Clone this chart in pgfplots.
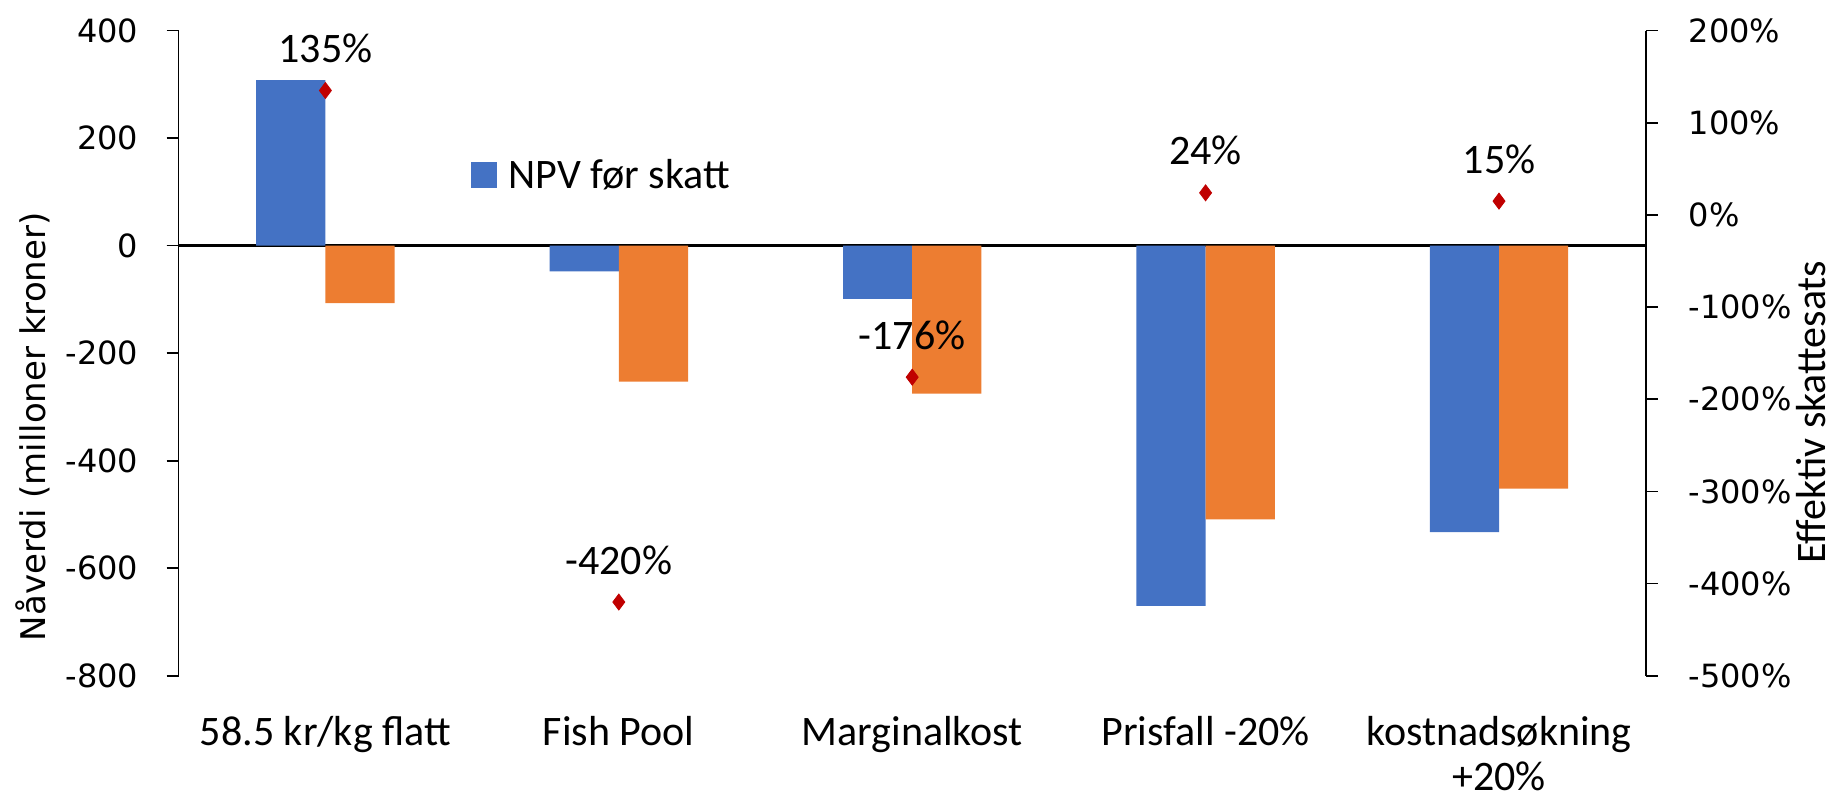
\documentclass[border=0pt]{standalone}
\usepackage{fontspec}
\setmainfont{Carlito}
\newfontfamily\tickfont{DejaVu Sans}
\usepackage{pgfplots}
\pgfplotsset{compat=1.18}
\definecolor{cblue}{HTML}{4472C4}
\definecolor{corange}{HTML}{ED7D31}
\definecolor{cred}{HTML}{C00000}
\begin{document}
\begin{tikzpicture}[font=\fontsize{21}{22.5}\selectfont]
\begin{axis}[
  scale only axis, width=733.5pt, height=322.6pt,
  xmin=-0.5, xmax=4.5, ymin=-800, ymax=400,
  ytick={-800,-600,...,400},
  axis y line*=left, axis x line*=bottom,
  x axis line style={draw=none},
  xtick={0,...,4},
  xticklabels={58.5 kr/kg flatt, Fish Pool, Marginalkost, Prisfall -20\%, {kostnadsøkning\\+20\%}},
  xtick style={draw=none},
  xticklabel style={align=center, anchor=north, inner sep=0pt, yshift=-14pt},
  tick align=outside, major tick length=6pt,
  ytick style={black, line width=0.8pt},
  y axis line style={black, line width=0.8pt},
  /pgf/number format/assume math mode=true,
  yticklabel style={inner sep=0pt, xshift=-14pt, font=\tickfont\fontsize{16}{19}\selectfont},
  ylabel={Nåverdi (milloner kroner)},
  ylabel style={at={(axis description cs:-0.0993,0.386)}, anchor=center, font=\tickfont\fontsize{17}{20}\selectfont},
  ybar=0pt, bar width=34.6pt,
  extra y ticks={0}, extra y tick labels={},
  extra y tick style={ymajorgrids=true, major grid style={black, line width=1.2pt}},
  legend style={at={(axis description cs:0.1993,0.776)}, anchor=west, draw=none, fill=none, inner sep=0pt, nodes={inner sep=0pt}, column sep=5.5pt},
]
\addplot[fill=cblue, draw=none, bar shift=-17.3pt, legend image code/.code={\fill[cblue] (0pt,-6.5pt) rectangle (13pt,6.5pt);}] coordinates {(0,308) (1,-48) (2,-99) (3,-670) (4,-533)};
\addlegendentry{NPV før skatt}
\addplot[fill=corange, draw=none, bar shift=17.3pt, forget plot] coordinates {(0,-107) (1,-253) (2,-275) (3,-509) (4,-452)};
\coordinate (BL) at (rel axis cs:0,0);
\end{axis}
\begin{axis}[
  scale only axis, width=733.5pt, height=322.6pt,
  xmin=-0.5, xmax=4.5, ymin=-500, ymax=200,
  ytick={-500,-400,...,200},
  axis y line*=right, axis x line=none,
  tick align=outside, major tick length=6pt,
  ytick style={black, line width=0.8pt},
  y axis line style={black, line width=0.8pt},
  /pgf/number format/assume math mode=true,
  yticklabel={\pgfmathprintnumber{\tick}\%},
  yticklabel style={inner sep=0pt, xshift=15.3pt, font=\tickfont\fontsize{16}{19}\selectfont},
  ylabel={Effektiv skattesats},
  ylabel style={at={(axis description cs:1.113,0.409)}, anchor=center},
]
\addplot[only marks, mark=diamond*, mark size=4pt, color=cred,
  point meta=y,
  nodes near coords={\pgfmathprintnumber{\pgfplotspointmeta}\%},
  every node near coord/.append style={anchor=center, yshift=21pt, text=black, /pgf/number format/assume math mode=true}]
  coordinates {(0,135) (1,-420) (2,-176) (3,24) (4,15)};
\end{axis}
\pgfresetboundingbox
\path (BL) ++(-89.35pt,-61.1pt) rectangle ++(921.5pt,399pt);
\end{tikzpicture}
\end{document}
